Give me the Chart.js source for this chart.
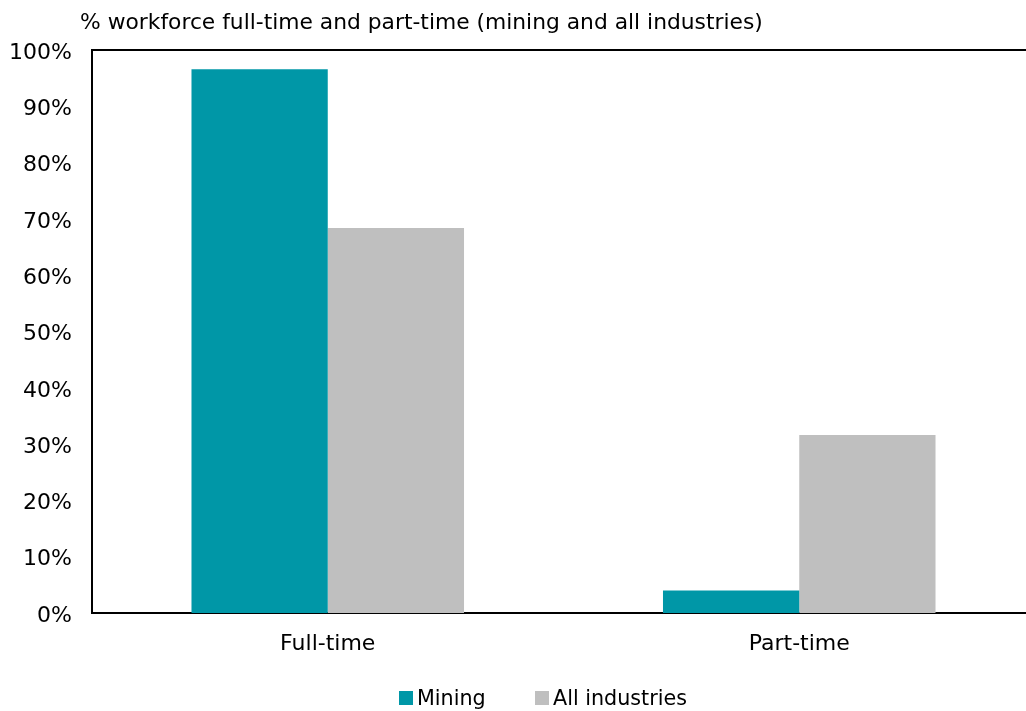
<!DOCTYPE html>
<html>
<head>
<meta charset="utf-8">
<script src="https://cdn.jsdelivr.net/npm/chart.js@4.4.0/dist/chart.umd.min.js"></script>
<style>
  html, body { margin: 0; padding: 0; background: #fff; overflow: hidden; }
  #wrap { position: relative; width: 1026px; height: 711px; overflow: hidden; }
  #title { position: absolute; left: 80px; top: 9px; font: 21.8px "DejaVu Sans", sans-serif; color: #000; white-space: nowrap; }
  .leg { position: absolute; top: 686px; height: 24px; display: flex; align-items: center; font: 20.7px "DejaVu Sans", sans-serif; color: #000; white-space: nowrap; }
  .leg i { display: inline-block; width: 14px; height: 14px; margin-right: 4px; }
</style>
</head>
<body>
<div id="wrap">
  <div id="title">% workforce full-time and part-time (mining and all industries)</div>
  <canvas id="bars" width="1040" height="711"></canvas>
</div>
<script>
// values (% of workforce)
const categories = ['Full-time', 'Part-time']
const mining = [96.6, 4.0]
const allIndustries = [68.4, 31.6]
const yTicks = [0, 10, 20, 30, 40, 50, 60, 70, 80, 90, 100]

const seriesNames = ['Mining', 'All industries']
const seriesColors = ['#0097a7', '#bfbfbf']
const legendX = [399, 535]

// top edge of the plot box
const frameTop = {
  id: 'frameTop',
  afterDraw(chart) {
    const { ctx, chartArea } = chart
    ctx.save()
    ctx.strokeStyle = '#000'
    ctx.lineWidth = 2
    ctx.beginPath()
    ctx.moveTo(chartArea.left - 1, chartArea.top)
    ctx.lineTo(chartArea.right, chartArea.top)
    ctx.stroke()
    ctx.restore()
  }
}

const barConfig = {
  type: 'bar',
  data: {
    labels: categories,
    datasets: [
      {
        label: seriesNames[0],
        backgroundColor: seriesColors[0],
        borderWidth: 0,
        data: mining,
      },
      {
        label: seriesNames[1],
        backgroundColor: seriesColors[1],
        borderWidth: 0,
        data: allIndustries,
      },
    ],
  },
  options: {
    responsive: false,
    animation: false,
    layout: { padding: { top: 50, left: 0, right: 5, bottom: 0 } },
    datasets: {
      bar: { categoryPercentage: 0.578, barPercentage: 1 },
    },
    scales: {
      x: {
        grid: { display: false },
        border: { color: '#000', width: 2 },
        ticks: { color: '#000', font: { family: 'DejaVu Sans', size: 22 }, padding: 10 },
        afterFit: (scale) => { scale.height = 98 },
      },
      y: {
        min: 0,
        max: 100,
        grid: { display: false },
        border: { color: '#000', width: 2 },
        afterBuildTicks: (scale) => { scale.ticks = yTicks.map(v => ({ value: v })) },
        ticks: {
          color: '#000',
          font: { family: 'DejaVu Sans', size: 22 },
          padding: 12,
          labelOffset: 3,
          callback: (v) => v + '%',
        },
        afterFit: (scale) => { scale.width = 92 },
      },
    },
    plugins: {
      legend: { display: false },
      tooltip: { enabled: false },
    },
  },
  plugins: [frameTop],
}

const barsCtx = document.getElementById('bars')
window.myBar = new Chart(barsCtx, barConfig)

// legend as text below the chart
const wrap = document.getElementById('wrap')
seriesNames.forEach((name, i) => {
  const item = document.createElement('div')
  item.className = 'leg'
  item.style.left = legendX[i] + 'px'
  item.innerHTML = `<i style="background:${seriesColors[i]}"></i>${name}`
  wrap.appendChild(item)
})
</script>
</body>
</html>
